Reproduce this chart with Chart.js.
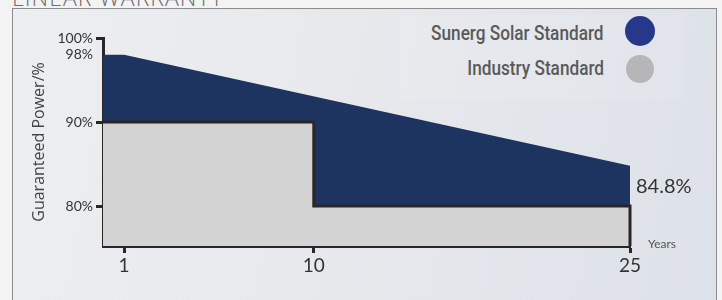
<!DOCTYPE html>
<html>
<head>
<meta charset="utf-8">
<script src="https://cdn.jsdelivr.net/npm/chart.js@4.4.1/dist/chart.umd.min.js"></script>
<style>
  html, body { margin: 0; padding: 0; width: 722px; height: 300px; overflow: hidden; background: #f3f3f3; }
  #title { position: absolute; left: 12px; top: -19px; font: 300 23px 'Open Sans', sans-serif; color: #6d6d6d; letter-spacing: 1px; white-space: nowrap; }
  #frame { position: absolute; left: 12px; top: 8px; width: 703px; height: 300px; border: 1px solid #8c8c8c; border-bottom: none;
           background: linear-gradient(100deg, #eceef1 0%, #e6e8ec 50%, #dde1e9 100%); }
  #legendBox { position: absolute; left: 400px; top: 15px; width: 286px; height: 86px; background: rgba(255,255,255,0.09); }
  .lg { position: absolute; right: 118px; font: 500 20px 'Liberation Sans Narrow', 'Roboto', sans-serif; color: #5a5a5a; white-space: nowrap; line-height: 24px;
        transform: scaleX(0.86); transform-origin: right center; }
  .dot { position: absolute; border-radius: 50%; }
  canvas { position: absolute; left: 0; top: 0; }
</style>
</head>
<body>
<div id="frame"></div>
<div id="title">LINEAR WARRANTY</div>
<div id="legendBox"></div>
<div id="legend"></div>
<canvas id="warrantyChart" width="722" height="300"></canvas>
<script>
const seriesNames = ['Sunerg Solar Standard', 'Industry Standard'];
const seriesColors = ['#1d3461', '#d4d3d3'];
const legendDotColors = ['#27378a', '#b6b6b8'];

const sunergYears = [0, 1, 25];
const sunergPower = [98, 98, 84.8];

const industryYears = [0, 10, 10, 25];
const industryPower = [90, 90, 80, 80];

const xTicks = [1, 10, 25];
const yTicks = [100, 98, 90, 80];

const lineColor = '#2a2526';

// legend (html, right aligned like the picture)
const legendEl = document.getElementById('legend');
const legendRows = [{ text: 21, dotX: 625, dotY: 16, size: 30 }, { text: 56, dotX: 626, dotY: 55, size: 28 }];
seriesNames.forEach((name, i) => {
  const t = document.createElement('div');
  t.className = 'lg';
  t.style.top = legendRows[i].text + 'px';
  t.textContent = name;
  legendEl.appendChild(t);
  const d = document.createElement('div');
  d.className = 'dot';
  d.style.left = legendRows[i].dotX + 'px';
  d.style.top = legendRows[i].dotY + 'px';
  d.style.width = d.style.height = legendRows[i].size + 'px';
  d.style.background = legendDotColors[i];
  legendEl.appendChild(d);
});

const extras = {
  id: 'extras',
  afterDatasetsDraw(chart) {
    const { ctx, scales: { x, y } } = chart;
    const endX = x.getPixelForValue(industryYears[industryYears.length - 1]);
    ctx.save();
    // closing edge of the industry block
    ctx.strokeStyle = lineColor;
    ctx.lineWidth = 3;
    ctx.beginPath();
    ctx.moveTo(endX, y.getPixelForValue(industryPower[industryPower.length - 1]) - 1.5);
    ctx.lineTo(endX, y.bottom);
    ctx.stroke();
    // end value label
    const lastV = sunergPower[sunergPower.length - 1];
    ctx.fillStyle = '#333';
    ctx.font = '20px Lato, sans-serif';
    ctx.textBaseline = 'middle';
    ctx.fillText(lastV.toFixed(1) + '%', x.getPixelForValue(sunergYears[sunergYears.length - 1]) + 6, y.getPixelForValue(lastV) + 21);
    ctx.font = '12px Lato, sans-serif';
    ctx.fillStyle = '#555';
    ctx.fillText('Years', x.right + 18, y.bottom - 2);
    ctx.restore();
  }
};

new Chart('warrantyChart', {
  type: 'line',
  data: {
    datasets: [
      {
        label: seriesNames[1],
        data: industryYears.map((yr, i) => ({ x: yr, y: industryPower[i] })),
        fill: 'start',
        backgroundColor: seriesColors[1],
        borderColor: lineColor,
        borderWidth: 3,
        borderJoinStyle: 'miter',
        pointRadius: 0,
        tension: 0
      },
      {
        label: seriesNames[0],
        data: sunergYears.map((yr, i) => ({ x: yr, y: sunergPower[i] })),
        fill: 'start',
        backgroundColor: seriesColors[0],
        borderWidth: 0,
        pointRadius: 0,
        tension: 0
      }
    ]
  },
  options: {
    responsive: false,
    animation: false,
    layout: { padding: { left: 0, right: 92, top: 38, bottom: 0 } },
    plugins: { legend: { display: false }, tooltip: { enabled: false } },
    scales: {
      x: {
        type: 'linear',
        min: 0,
        max: 25,
        afterBuildTicks: (s) => { s.ticks = xTicks.map(v => ({ value: v })); },
        afterFit: (s) => { s.height = 54; },
        border: { display: true, color: lineColor, width: 3 },
        grid: { display: true, drawOnChartArea: false, drawTicks: true, tickLength: 7, tickWidth: 3, tickColor: lineColor },
        ticks: { font: { family: 'Lato', size: 19 }, color: '#333', padding: 1, maxRotation: 0, autoSkip: false }
      },
      y: {
        type: 'linear',
        min: 75.24,
        max: 100,
        afterBuildTicks: (s) => { s.ticks = yTicks.map(v => ({ value: v })); },
        afterFit: (s) => { s.width = 103; },
        border: { display: true, color: lineColor, width: 3 },
        grid: {
          display: true, drawOnChartArea: false, drawTicks: true, tickLength: 7, tickWidth: 3,
          tickColor: (c) => (c.tick && c.tick.value === 98) ? 'rgba(0,0,0,0)' : lineColor
        },
        ticks: { font: { family: 'Lato', size: 14 }, color: '#333', padding: 3, autoSkip: false, callback: v => v + '%' },
        title: { display: true, text: 'Guaranteed Power/%', font: { family: 'Open Sans', size: 16 }, color: '#444', padding: { top: 30, bottom: 0 } }
      }
    }
  },
  plugins: [extras]
});
</script>
</body>
</html>
